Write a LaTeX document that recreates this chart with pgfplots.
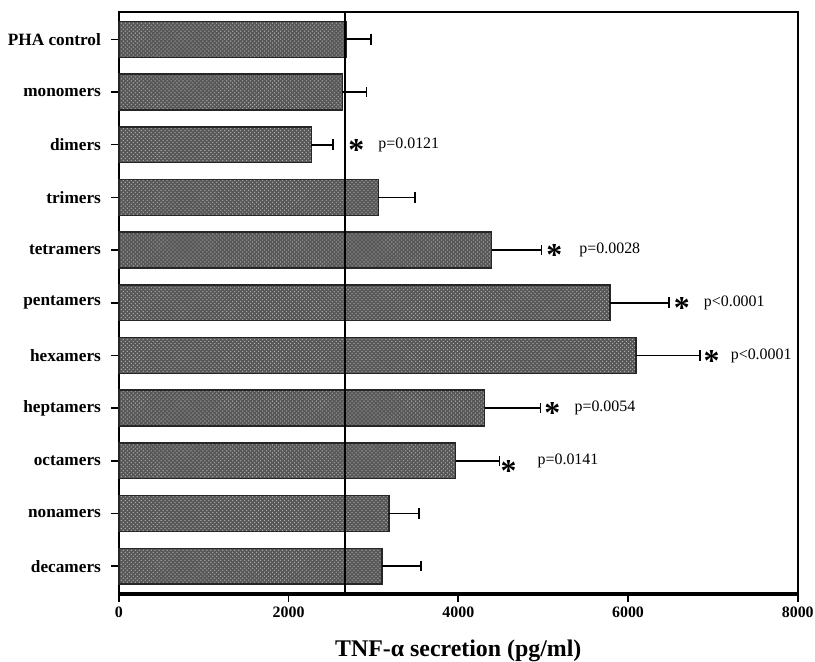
\documentclass[border=0pt]{standalone}
\usepackage{pgfplots}
\pgfplotsset{compat=1.18}
\usepackage{pgfplotstable}
\usepackage{fontspec}
\setmainfont{Liberation Serif}
\usetikzlibrary{patterns}

\pgfplotstableread{
y val err
0 2680 295
1 2633 287
2 2270 250
3 3057 433
4 4393 587
5 5789 692
6 6094 751
7 4311 656
8 3970 517
9 3185 352
10 3103 457
}\bars

\pgfplotstableread{
x y
2798 2
5132 4
6633 5
6985 6
5109 7
4592 8.1
}\stars

\pgfplotstableread{
x y label
3056 2 p=0.0121
5425 4 p=0.0028
6891 5 p<0.0001
7208 6 p<0.0001
5367 7 p=0.0054
4932 8 p=0.0141
}\pvals

\begin{document}
\begin{tikzpicture}
\begin{axis}[
  name=ax,
  scale only axis,
  width=512pt, height=439pt,
  xmin=0, xmax=8000,
  ymin=-0.52, ymax=10.53,
  y dir=reverse,
  xtick={0,2000,4000,6000,8000},
  ytick={0,...,10},
  yticklabels={PHA control,monomers,dimers,trimers,tetramers,pentamers,hexamers,heptamers,octamers,nonamers,decamers},
  yticklabel style={font=\fontsize{13}{15}\selectfont\bfseries, xshift=-4pt},
  xticklabel style={font=\fontsize{12}{14}\selectfont\bfseries},
  /pgf/number format/assume math mode=true,
  scaled x ticks=false,
  xticklabel={\pgfmathprintnumber[fixed,1000 sep={}]{\tick}},
  tick align=outside,
  major tick length=6pt,
  tick style={black, line width=1.2pt},
  xtick pos=bottom, ytick pos=left,
  axis line style={line width=1.4pt},
  xlabel={TNF-α secretion (pg/ml)},
  xlabel style={font=\fontsize{18}{21}\selectfont\bfseries, yshift=-10pt},
  clip=false,
]
\addplot[xbar, bar width=27pt, bar shift=0pt, draw=black!85, line width=1.1pt, fill=black!66,
  postaction={pattern=crosshatch dots, pattern color=black!30},
  error bars/.cd, x dir=plus, x explicit,
  error bar style={line width=1.3pt, black},
  error mark options={rotate=90, mark size=4pt, line width=1.3pt}]
  table[x=val, y=y, x error=err] {\bars};
\addplot[black, line width=1.5pt, mark=none] coordinates {(2660,-0.52) (2660,10.53)};
\addplot[only marks, mark=none, nodes near coords={\fontsize{24}{24}\selectfont\bfseries *}, every node near coord/.style={anchor=center, inner sep=0pt, yshift=-4pt}] table[x=x,y=y] {\stars};
\addplot[only marks, mark=none, point meta=explicit symbolic, nodes near coords, every node near coord/.style={anchor=west, inner sep=0pt, font=\fontsize{12}{14}\selectfont}] table[x=x,y=y,meta=label] {\pvals};
\end{axis}
\draw[line width=2.6pt] (ax.south west) -- (ax.south east);
\pgfresetboundingbox
\path ([xshift=-89.6pt, yshift=-51pt]ax.south west) rectangle ([xshift=13pt, yshift=9pt]ax.north east);
\end{tikzpicture}
\end{document}
